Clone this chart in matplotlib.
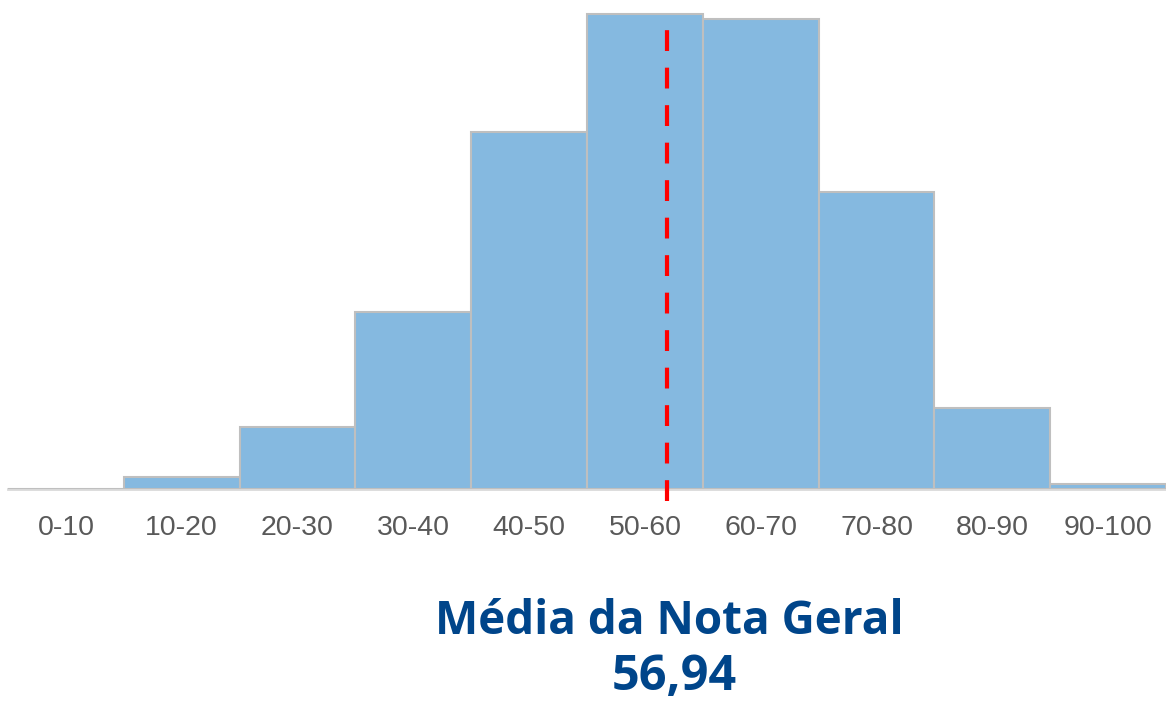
import matplotlib
matplotlib.use("Agg")
import matplotlib.pyplot as plt
import numpy as np

# histogram of "Nota Geral" (counts, arbitrary units)
bin_labels = ["0-10", "10-20", "20-30", "30-40", "40-50",
              "50-60", "60-70", "70-80", "80-90", "90-100"]
bin_starts = [0, 10, 20, 30, 40, 50, 60, 70, 80, 90]
counts = [0, 12, 62, 177, 357, 475, 470, 297, 81, 5]
mean_score = 56.94

W, H = 1166, 701
fig = plt.figure(figsize=(W / 100, H / 100), dpi=100)
ax = fig.add_axes([8 / W, (H - 489) / H, 1158 / W, 480 / H])

ax.bar(bin_starts, counts, width=10, align="edge", color="#85b9e0",
       edgecolor="#bfbfbf", linewidth=1.5, zorder=2)

ax.axvline(mean_score, ymin=-0.025, ymax=0.985, color="#ff0000",
           linewidth=3, linestyle=(0, (5, 4)), clip_on=False, zorder=3)

ax.set_xlim(0, 100)
ax.set_ylim(0, 480)
ax.set_xticks(np.array(bin_starts) + 5)
ax.set_xticklabels(bin_labels, fontfamily="Liberation Sans", fontsize=20.5,
                   color="#595959")
ax.tick_params(axis="x", length=0, pad=19)
ax.set_yticks([])

for side in ["left", "right", "top"]:
    ax.spines[side].set_visible(False)
ax.spines["bottom"].set_color("#d9d9d9")
ax.spines["bottom"].set_linewidth(2)
ax.spines["bottom"].set_zorder(1)

fig.text(669 / W, 1 - 621 / H, "Média da Nota Geral", ha="center",
         va="center", fontfamily="Open Sans", fontweight="bold", fontsize=33,
         color="#00458a")
fig.text(674 / W, 1 - 678 / H, f"{mean_score:.2f}".replace(".", ","),
         ha="center", va="center", fontfamily="Open Sans", fontweight="bold",
         fontsize=35, color="#00458a")

fig.savefig("out.png", dpi=100, facecolor="white")
